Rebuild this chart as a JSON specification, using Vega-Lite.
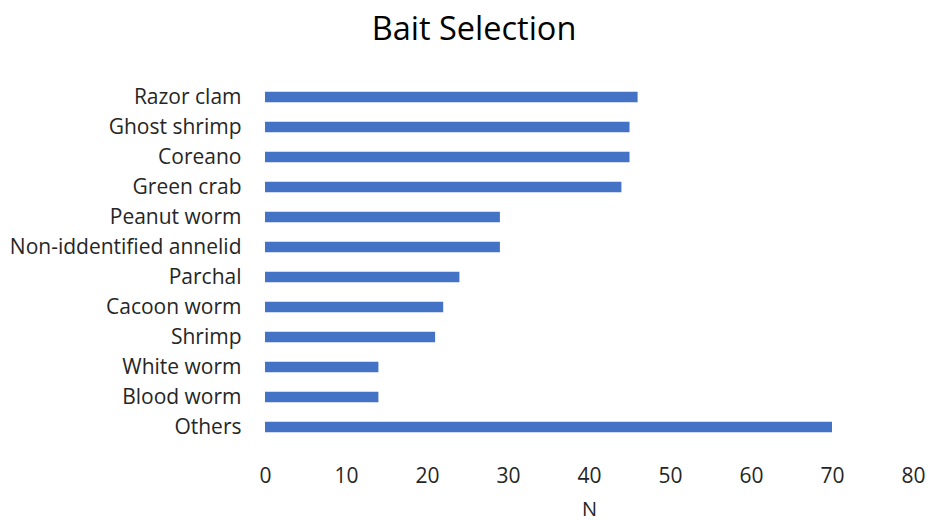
{
  "$schema": "https://vega.github.io/schema/vega-lite/v6.json",
  "width": 648,
  "height": 360,
  "autosize": "none",
  "padding": {"left": 265, "top": 82, "right": 17, "bottom": 78},
  "background": "white",
  "title": {
    "text": "Bait Selection",
    "font": "Open Sans",
    "fontSize": 32.5,
    "fontWeight": "normal",
    "color": "#000000",
    "anchor": "middle",
    "dx": -115,
    "offset": 36
  },
  "data": {
    "values": [
      {"bait": "Razor clam", "n": 46},
      {"bait": "Ghost shrimp", "n": 45},
      {"bait": "Coreano", "n": 45},
      {"bait": "Green crab", "n": 44},
      {"bait": "Peanut worm", "n": 29},
      {"bait": "Non-iddentified annelid", "n": 29},
      {"bait": "Parchal", "n": 24},
      {"bait": "Cacoon worm", "n": 22},
      {"bait": "Shrimp", "n": 21},
      {"bait": "White worm", "n": 14},
      {"bait": "Blood worm", "n": 14},
      {"bait": "Others", "n": 70}
    ]
  },
  "mark": {"type": "bar", "color": "#4472C4"},
  "encoding": {
    "y": {
      "field": "bait",
      "type": "nominal",
      "sort": null,
      "scale": {"paddingInner": 0.65, "paddingOuter": 0.325},
      "axis": {
        "title": null,
        "domain": false,
        "ticks": false,
        "grid": false,
        "labelPadding": 24,
        "labelFont": "Open Sans",
        "labelFontSize": 21,
        "labelColor": "#262626",
        "labelLimit": 300,
        "labelOffset": 1
      }
    },
    "x": {
      "field": "n",
      "type": "quantitative",
      "scale": {"domain": [0, 80], "nice": false},
      "axis": {
        "title": "N",
        "values": [0, 10, 20, 30, 40, 50, 60, 70, 80],
        "domain": false,
        "ticks": false,
        "grid": false,
        "labelFlush": false,
        "labelPadding": 23,
        "labelFont": "Open Sans",
        "labelFontSize": 21,
        "labelColor": "#262626",
        "titleFont": "Open Sans",
        "titleFontSize": 20,
        "titleFontWeight": "normal",
        "titleColor": "#262626",
        "titlePadding": 13
      }
    }
  },
  "config": {"view": {"stroke": null}}
}
